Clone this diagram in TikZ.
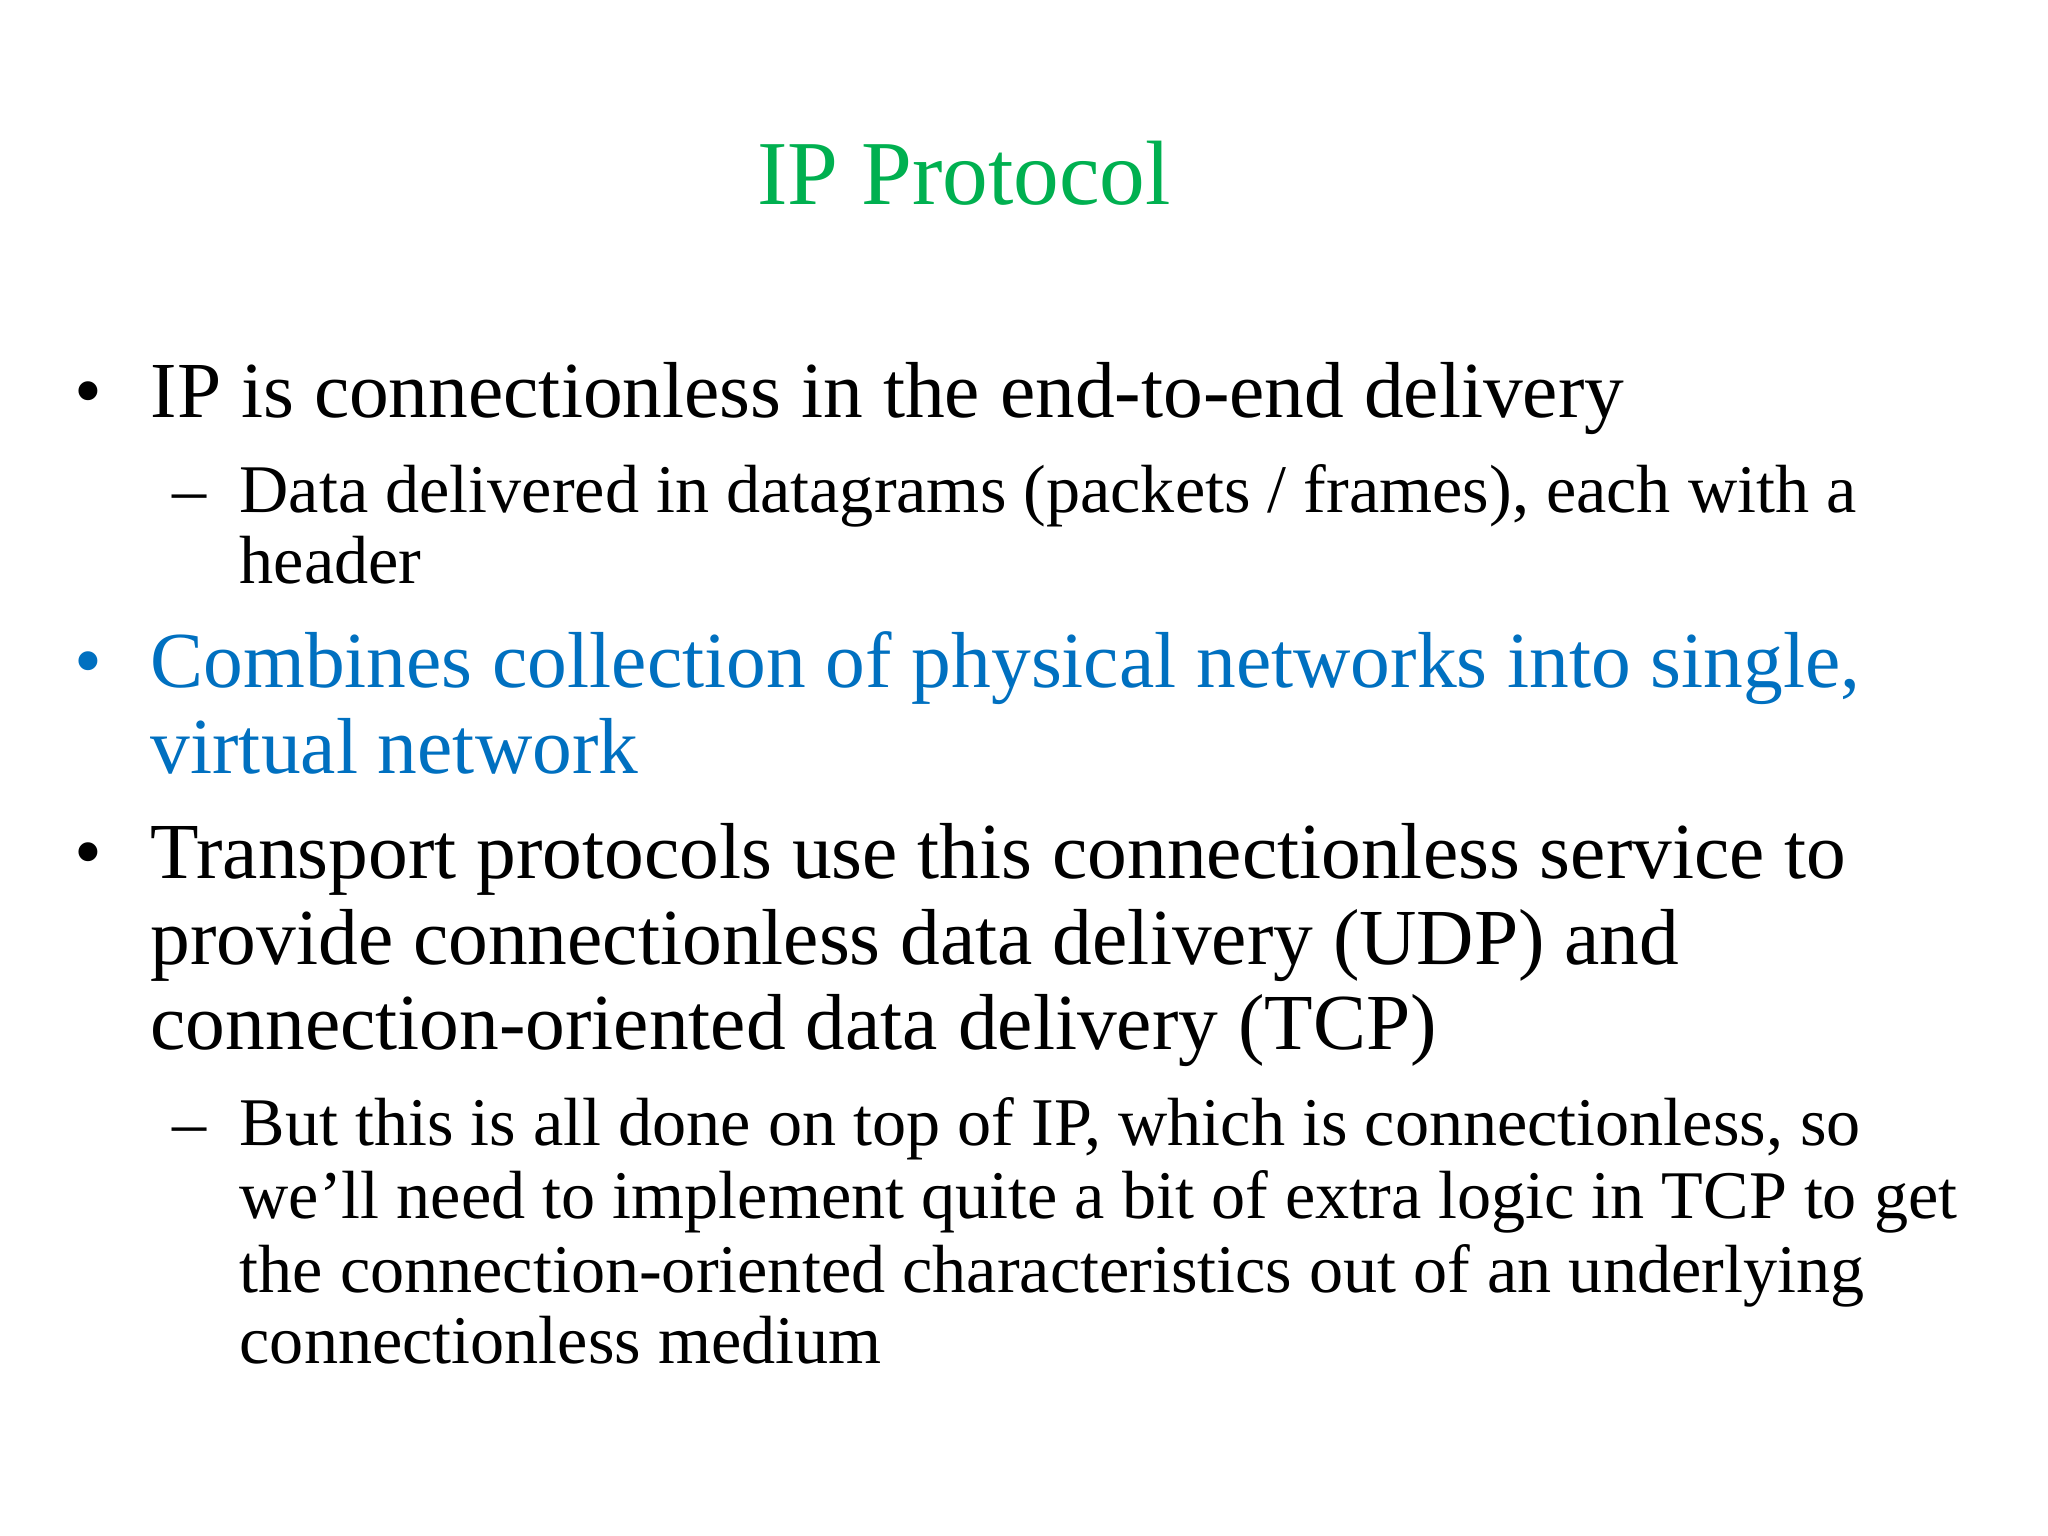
\documentclass[tikz,border=0pt]{standalone}
\usepackage{fontspec}
\setmainfont{Liberation Serif}
\definecolor{titlegreen}{RGB}{0,176,80}
\definecolor{bulletblue}{RGB}{0,112,192}
\tikzset{
  ln/.style={anchor=base west, inner sep=0pt, font=\fontsize{22.6pt}{26pt}\selectfont},
  sub/.style={anchor=base west, inner sep=0pt, font=\fontsize{19.4pt}{23pt}\selectfont},
}
\begin{document}
\begin{tikzpicture}
\useasboundingbox[fill=white] (0,0) rectangle (20.48,-15.36);
\node[anchor=base, inner sep=0pt, font=\fontsize{26pt}{30pt}\selectfont, text=titlegreen] (title) at (9.64,-2.05) {IP Protocol};
% bullet 1
\node[ln] (b1) at (0.74,-4.18) {•};
\node[ln] (t1) at (1.50,-4.18) {IP is connectionless in the end-to-end delivery};
\node[sub] (d1) at (1.72,-5.12) {–};
\node[sub] (s1a) at (2.39,-5.12) {Data delivered in datagrams (packets / frames), each with a};
\node[sub] (s1b) at (2.39,-5.84) {header};
% bullet 2
\node[ln, text=bulletblue] (b2) at (0.74,-6.88) {•};
\node[ln, text=bulletblue] (t2a) at (1.50,-6.88) {Combines collection of physical networks into single,};
\node[ln, text=bulletblue] (t2b) at (1.50,-7.73) {virtual network};
% bullet 3
\node[ln] (b3) at (0.74,-8.79) {•};
\node[ln] (t3a) at (1.50,-8.79) {Transport protocols use this connectionless service to};
\node[ln] (t3b) at (1.50,-9.64) {provide connectionless data delivery (UDP) and};
\node[ln] (t3c) at (1.50,-10.49) {connection-oriented data delivery (TCP)};
\node[sub] (d2) at (1.72,-11.45) {–};
\node[sub] (s2a) at (2.39,-11.45) {But this is all done on top of IP, which is connectionless, so};
\node[sub] (s2b) at (2.39,-12.18) {we’ll need to implement quite a bit of extra logic in TCP to get};
\node[sub] (s2c) at (2.39,-12.92) {the connection-oriented characteristics out of an underlying};
\node[sub] (s2d) at (2.39,-13.63) {connectionless medium};
\end{tikzpicture}
\end{document}
